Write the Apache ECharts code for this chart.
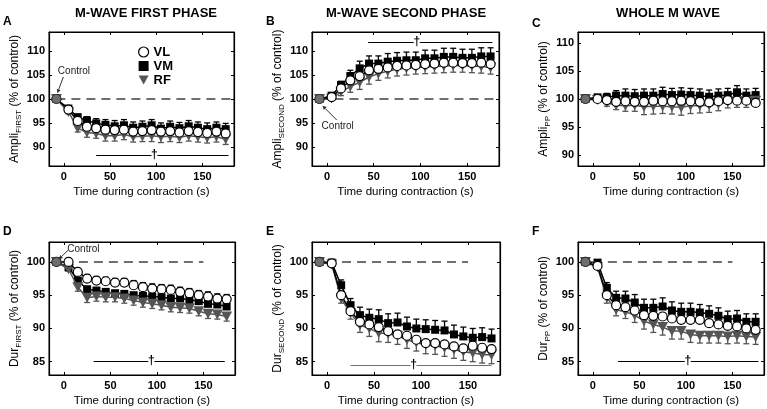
<!DOCTYPE html>
<html><head><meta charset="utf-8">
<script src="https://cdn.jsdelivr.net/npm/echarts@6/dist/echarts.min.js"></script>
<style>html,body{margin:0;padding:0;background:#fff}#c{width:767px;height:409px}</style>
</head><body><div id="c"></div>
<script>
// ---------- data ----------
const timePts = [5,15,25,35,45,55,65,75,85,95,105,115,125,135,145,155,165,175];
const controlT = -8;
const controlV = 100;
const seriesNames = ['VL','VM','RF'];

// A: Ampli FIRST
const A_VL = [97.8,95.4,94.2,93.9,93.6,93.5,93.6,93.2,93.3,93.5,93.2,93.3,93.0,93.3,93.1,92.9,93.2,92.8];
const A_VM = [98.0,96.2,95.5,94.9,94.6,94.3,94.5,94.0,94.2,94.5,93.8,94.2,93.9,94.3,94.0,93.7,94.0,93.7];
const A_RF = [97.3,93.9,93.0,92.8,92.3,92.3,92.6,92.1,92.2,92.3,92.1,92.2,92.0,92.3,92.1,91.9,92.1,91.6];
const A_VM_err = [0.3,0.6,0.8,1.0,1.1,1.2,1.2,1.2,1.2,1.2,1.2,1.2,1.2,1.2,1.2,1.3,1.2,1.2];
const A_RF_err = [0.4,0.8,1.0,1.0,1.1,1.1,1.1,1.1,1.1,1.2,1.2,1.1,1.1,1.1,1.1,1.1,1.1,1.1];

// B: Ampli SECOND
const B_VL = [100.4,102.2,103.9,104.8,106.0,106.3,106.6,106.9,107.0,107.1,107.3,107.4,107.6,107.6,107.5,107.5,107.6,107.3];
const B_VM = [100.7,102.9,104.8,106.4,107.4,107.4,107.8,108.0,108.1,108.1,108.5,108.5,108.8,108.8,108.6,108.6,108.9,108.9];
const B_RF = [100.1,101.5,102.6,103.5,104.6,105.3,105.8,106.2,106.4,106.6,106.7,106.8,106.9,107.0,107.0,106.9,106.8,106.6];
const B_VM_err = [0.3,0.8,1.2,1.5,1.6,1.6,1.7,1.7,1.7,1.7,1.7,1.7,1.8,1.8,1.8,1.8,1.8,1.8];
const B_RF_err = [0.3,0.8,1.2,1.5,1.5,1.4,1.4,1.4,1.4,1.4,1.4,1.4,1.4,1.4,1.4,1.4,1.4,1.4];

// C: Ampli PP
const C_VL = [100.0,99.8,99.5,99.6,99.5,99.5,99.7,99.6,99.6,99.7,99.6,99.5,99.4,99.6,99.8,99.7,99.7,99.3];
const C_VM = [100.3,100.3,100.6,100.6,100.5,100.6,100.6,100.9,100.7,100.8,100.7,100.6,100.4,100.6,100.7,101.2,100.6,100.7];
const C_RF = [99.8,99.3,98.9,98.8,98.9,98.6,98.7,98.7,98.6,98.5,98.8,98.8,98.9,99.1,99.5,99.6,99.6,99.7];
const C_VM_err = [0.4,0.7,0.9,1.2,1.2,1.2,1.2,1.2,1.2,1.2,1.2,1.2,1.2,1.2,1.2,1.2,1.2,1.2];
const C_RF_err = [0.3,0.6,0.8,1.0,1.1,1.4,1.4,1.3,1.3,1.4,1.4,1.3,1.3,1.2,1.1,1.1,1.1,1.0];

// D: Dur FIRST
const D_VL = [100.0,98.5,97.5,97.2,97.1,96.9,96.9,96.5,96.2,96.0,95.9,95.8,95.5,95.3,95.0,94.8,94.5,94.4];
const D_VM = [99.2,97.2,95.9,95.7,95.5,95.3,95.2,95.0,94.9,94.8,94.7,94.5,94.5,94.3,94.1,93.7,93.6,93.3];
const D_RF = [98.9,96.2,94.6,94.8,94.7,94.7,94.5,94.2,93.9,93.7,93.5,93.2,93.1,93.0,92.6,92.2,92.1,91.8];
const D_VL_err = [0.2,0.5,0.6,0.6,0.6,0.6,0.6,0.7,0.7,0.7,0.7,0.7,0.7,0.7,0.7,0.7,0.7,0.7];
const D_RF_err = [0.3,0.6,0.7,0.7,0.7,0.7,0.7,0.7,0.7,0.7,0.7,0.7,0.7,0.7,0.7,0.7,0.7,0.7];

// E: Dur SECOND
const E_VL = [99.8,95.0,92.6,91.0,90.6,90.2,89.6,89.1,88.9,88.3,87.8,87.8,87.6,87.3,87.0,87.4,87.1,86.9];
const E_VM = [99.9,96.5,93.5,92.0,91.6,91.4,90.8,90.9,90.3,90.0,89.9,89.8,89.7,89.1,88.8,88.6,88.7,88.5];
const E_RF = [99.6,94.5,92.3,90.5,90.0,89.3,89.2,88.9,88.3,87.9,87.5,87.4,87.1,86.8,86.5,86.3,86.1,86.0];
const E_VM_err = [0.2,0.8,1.0,1.2,1.3,1.4,1.4,1.4,1.4,1.4,1.4,1.4,1.4,1.4,1.4,1.4,1.4,1.4];
const E_RF_err = [0.2,0.7,0.9,1.1,1.2,1.3,1.3,1.3,1.3,1.3,1.3,1.3,1.3,1.3,1.3,1.3,1.3,1.3];

// F: Dur PP
const F_VL = [99.4,95.0,93.5,93.2,92.7,92.0,91.9,91.8,91.5,91.3,91.3,91.3,90.8,90.6,90.4,90.3,90.0,89.8];
const F_VM = [99.9,96.1,94.6,94.5,93.9,93.1,93.1,93.3,92.7,92.5,92.5,92.4,92.2,91.9,91.4,91.5,91.0,91.0];
const F_RF = [99.2,94.6,92.8,92.5,92.0,91.1,90.6,90.2,89.6,89.6,89.1,88.9,88.9,88.9,88.8,88.9,88.8,88.7];
const F_VM_err = [0.2,0.8,1.0,1.1,1.2,1.3,1.3,1.3,1.3,1.3,1.3,1.2,1.2,1.2,1.2,1.2,1.2,1.2];
const F_RF_err = [0.3,0.8,0.9,1.0,1.1,1.2,1.2,1.2,1.2,1.2,1.2,1.1,1.1,1.1,1.1,1.1,1.1,1.1];

// axis ranges and tick labels
const xRange = [-16, 184];
const xTicks = [0, 50, 100, 150];
const yRangeAB = [86, 114];
const yRangeC = [88, 112];
const yRangeDEF = [83, 103];
const yTicksTop = [90, 95, 100, 105, 110];
const yTicksBottom = [85, 90, 95, 100];

// text
const columnTitles = ['M-WAVE FIRST PHASE', 'M-WAVE SECOND PHASE', 'WHOLE M WAVE'];
const panelLetters = ['A','B','C','D','E','F'];
const yPrefix = ['Ampli','Ampli','Ampli','Dur','Dur','Dur'];
const ySub = ['FIRST','SECOND','PP','FIRST','SECOND','PP'];
const xName = 'Time during contraction (s)';

// reference (dashed) lines at 100: [x1, x2]
const refLines = [[-8,184],[-8,184],[-8,184],[0,150],[0,150],[0,150]];
// significance bars: [x1, x2, y, xDagger]
const sigBars = [[35,178,88.3,98],[44,177,111.9,96],null,[32,173,85.1,94],[25,175,84.5,92],[27,178,85.1,102]];
// "Control" callouts: [textX, textY, arrowStartX, arrowStartY, arrowEndX, arrowEndY]
const callouts = [[11,105.8,-0.5,104.6,-7,101.2],[11.5,94.4,10.5,95.6,-4.8,98.6],null,[21,101.9,4.4,101.75,-5.5,100.4],null,null];

// ---------- layout ----------
const FONT = '"Liberation Sans", Arial, Helvetica, sans-serif';
const grids = [
  {left:49, top:32, width:185, height:134},
  {left:312, top:32, width:187, height:134},
  {left:578, top:32, width:186, height:134},
  {left:49, top:242, width:186, height:133},
  {left:312, top:242, width:188, height:133},
  {left:578, top:242, width:186, height:133}
];
const RFCOL = '#555555';

const panelData = [
  {VL:A_VL, VM:A_VM, RF:A_RF, err:[['VM',A_VM,A_VM_err,1],['RF',A_RF,A_RF_err,-1]], yr:yRangeAB, yt:yTicksTop},
  {VL:B_VL, VM:B_VM, RF:B_RF, err:[['VM',B_VM,B_VM_err,1],['RF',B_RF,B_RF_err,-1]], yr:yRangeAB, yt:yTicksTop},
  {VL:C_VL, VM:C_VM, RF:C_RF, err:[['VM',C_VM,C_VM_err,1],['RF',C_RF,C_RF_err,-1]], yr:yRangeC, yt:yTicksTop},
  {VL:D_VL, VM:D_VM, RF:D_RF, err:[['VL',D_VL,D_VL_err,1],['RF',D_RF,D_RF_err,-1]], yr:yRangeDEF, yt:yTicksBottom},
  {VL:E_VL, VM:E_VM, RF:E_RF, err:[['VM',E_VM,E_VM_err,1],['RF',E_RF,E_RF_err,-1]], yr:yRangeDEF, yt:yTicksBottom},
  {VL:F_VL, VM:F_VM, RF:F_RF, err:[['VM',F_VM,F_VM_err,1],['RF',F_RF,F_RF_err,-1]], yr:yRangeDEF, yt:yTicksBottom}
];

const xAxes = [], yAxes = [], series = [];
const tickCommon = {show:true, inside:true, length:3, lineStyle:{color:'#000', width:1}};

panelData.forEach((pd, p) => {
  xAxes.push({
    gridIndex:p, type:'value', min:xRange[0], max:xRange[1], position:'bottom',
    axisLine:{show:true, onZero:false, lineStyle:{color:'#000', width:1.2}},
    axisTick:Object.assign({customValues:xTicks}, tickCommon),
    axisLabel:{customValues:xTicks, color:'#000', fontFamily:FONT, fontSize:11, fontWeight:'bold', margin:5},
    splitLine:{show:false},
    name:xName, nameLocation:'middle', nameGap:20,
    nameTextStyle:{color:'#000', fontFamily:FONT, fontSize:11.5}
  });
  xAxes.push({
    gridIndex:p, type:'value', min:xRange[0], max:xRange[1], position:'top',
    axisLine:{show:true, onZero:false, lineStyle:{color:'#000', width:1.2}},
    axisTick:Object.assign({customValues:xTicks}, tickCommon),
    axisLabel:{show:false}, splitLine:{show:false}
  });
  yAxes.push({
    gridIndex:p, type:'value', min:pd.yr[0], max:pd.yr[1], position:'left',
    axisLine:{show:true, onZero:false, lineStyle:{color:'#000', width:1.2}},
    axisTick:Object.assign({customValues:pd.yt}, tickCommon),
    axisLabel:{customValues:pd.yt, color:'#000', fontFamily:FONT, fontSize:11, fontWeight:'bold', margin:4},
    splitLine:{show:false},
    name:'{a|' + yPrefix[p] + '}{s|' + ySub[p] + '}{a| (% of control)}',
    nameLocation:'middle', nameGap:20,
    nameTextStyle:{color:'#000', fontFamily:FONT, rich:{
      a:{fontSize:12, fontFamily:FONT, color:'#000', lineHeight:16, verticalAlign:'middle'},
      s:{fontSize:8, fontFamily:FONT, color:'#000', lineHeight:5, verticalAlign:'bottom'}
    }}
  });
  yAxes.push({
    gridIndex:p, type:'value', min:pd.yr[0], max:pd.yr[1], position:'right',
    axisLine:{show:true, onZero:false, lineStyle:{color:'#000', width:1.2}},
    axisTick:Object.assign({customValues:pd.yt}, tickCommon),
    axisLabel:{show:false}, splitLine:{show:false}
  });
  const xi = p*2, yi = p*2;

  // error bars
  pd.err.forEach(([nm, vals, errs, dir]) => {
    const col = nm === 'RF' ? RFCOL : '#000';
    series.push({
      type:'custom', name:nm, xAxisIndex:xi, yAxisIndex:yi, z:1, silent:true,
      data: timePts.map((t,i) => [t, vals[i], errs[i]]),
      encode:{x:0, y:1},
      renderItem:(params, api) => {
        const x = api.value(0), y = api.value(1), e = api.value(2);
        const p0 = api.coord([x, y]);
        const p1 = api.coord([x, y + dir*e]);
        const w = 3;
        return {type:'group', children:[
          {type:'line', shape:{x1:p0[0], y1:p0[1], x2:p1[0], y2:p1[1]}, style:{stroke:col, lineWidth:1.3}},
          {type:'line', shape:{x1:p1[0]-w, y1:p1[1], x2:p1[0]+w, y2:p1[1]}, style:{stroke:col, lineWidth:1.3}}
        ]};
      }
    });
  });

  const mk = (vals) => [[controlT, controlV]].concat(timePts.map((t,i) => [t, vals[i]]));
  // VM
  series.push({
    type:'line', name:'VM', xAxisIndex:xi, yAxisIndex:yi, z:3,
    data: mk(pd.VM), symbol:'rect', symbolSize:8, showAllSymbol:true,
    lineStyle:{color:'#000', width:1.5}, itemStyle:{color:'#000'},
    emphasis:{disabled:true}, animation:false,
    markLine:{silent:true, symbol:'none', animation:false, label:{show:false},
      lineStyle:{color:'#404040', type:[9,6], width:1.5},
      data:[[{coord:[refLines[p][0], 100]}, {coord:[refLines[p][1], 100]}]]}
  });
  // RF
  series.push({
    type:'line', name:'RF', xAxisIndex:xi, yAxisIndex:yi, z:4,
    data: mk(pd.RF), symbol:'triangle', symbolRotate:180, symbolSize:[11,10], showAllSymbol:true,
    lineStyle:{color:RFCOL, width:1.5}, itemStyle:{color:RFCOL},
    emphasis:{disabled:true}, animation:false
  });
  // VL
  series.push({
    type:'line', name:'VL', xAxisIndex:xi, yAxisIndex:yi, z:5,
    data: mk(pd.VL), symbol:'circle', symbolSize:9, showAllSymbol:true,
    lineStyle:{color:'#000', width:1.5}, itemStyle:{color:'#fff', borderColor:'#000', borderWidth:1.2},
    emphasis:{disabled:true}, animation:false
  });
  // control marker
  series.push({
    type:'scatter', name:'control', xAxisIndex:xi, yAxisIndex:yi, z:6, silent:true,
    data:[[controlT, controlV]], symbol:'circle', symbolSize:10,
    itemStyle:{color:'#4a4a4a'}, animation:false
  });
  // significance bar
  if (sigBars[p]) {
    const sb = sigBars[p];
    const col = p === 4 ? '#707070' : '#000';
    series.push({
      type:'custom', name:'sig', xAxisIndex:xi, yAxisIndex:yi, z:2, silent:true,
      data:[sb], encode:{x:0, y:2},
      renderItem:(params, api) => {
        const a = api.coord([api.value(0), api.value(2)]);
        const b = api.coord([api.value(1), api.value(2)]);
        const d = api.coord([api.value(3), api.value(2)]);
        const yy = Math.round(a[1]) + 0.5;
        return {type:'group', children:[
          {type:'line', shape:{x1:a[0], y1:yy, x2:d[0]-3, y2:yy}, style:{stroke:col, lineWidth:1.2}},
          {type:'line', shape:{x1:d[0]+3, y1:yy, x2:b[0], y2:yy}, style:{stroke:col, lineWidth:1.2}},
          {type:'text', x:d[0], y:yy-1, style:{text:'\u2020', fill:'#000', font:'bold 12px ' + FONT, textAlign:'center', textVerticalAlign:'middle'}}
        ]};
      }
    });
  }
  // Control callout
  if (callouts[p]) {
    const c = callouts[p];
    series.push({
      type:'custom', name:'callout', xAxisIndex:xi, yAxisIndex:yi, z:7, silent:true,
      data:[c], encode:{x:0, y:1},
      renderItem:(params, api) => {
        const t = api.coord([api.value(0), api.value(1)]);
        const s = api.coord([api.value(2), api.value(3)]);
        const e = api.coord([api.value(4), api.value(5)]);
        const ang = Math.atan2(e[1]-s[1], e[0]-s[0]);
        const L = 4, W = 2;
        const bx = e[0] - L*Math.cos(ang), by = e[1] - L*Math.sin(ang);
        const px = -Math.sin(ang)*W, py = Math.cos(ang)*W;
        return {type:'group', children:[
          {type:'line', shape:{x1:s[0], y1:s[1], x2:bx, y2:by}, style:{stroke:'#333', lineWidth:1}},
          {type:'polygon', shape:{points:[[e[0],e[1]],[bx+px,by+py],[bx-px,by-py]]}, style:{fill:'#333'}},
          {type:'text', x:t[0], y:t[1], style:{text:'Control', fill:'#222', font:'10px ' + FONT, textAlign:'center', textVerticalAlign:'middle'}}
        ]};
      }
    });
  }
});

// titles and panel letters
const titleX = [146, 406, 668];
const letterPos = [[3,22],[266,22],[532,24],[3,232],[266,232],[532,232]];
const graphics = [];
columnTitles.forEach((t,i) => graphics.push({type:'text', x:titleX[i], y:13, silent:true,
  style:{text:t, fill:'#000', font:'bold 13px ' + FONT, textAlign:'center', textVerticalAlign:'middle'}}));
panelLetters.forEach((t,i) => graphics.push({type:'text', x:letterPos[i][0], y:letterPos[i][1], silent:true,
  style:{text:t, fill:'#000', font:'bold 12px ' + FONT, textAlign:'left', textVerticalAlign:'middle'}}));

const chart = echarts.init(document.getElementById('c'), null, {renderer:'canvas'});
chart.setOption({
  animation:false,
  backgroundColor:'#fff',
  grid: grids.map(g => Object.assign({show:true, borderColor:'#000', borderWidth:1, backgroundColor:'transparent', containLabel:false}, g)),
  xAxis: xAxes,
  yAxis: yAxes,
  legend:{
    orient:'vertical', left:133, top:40, itemWidth:10, itemHeight:10, itemGap:0,
    textStyle:{fontFamily:FONT, fontSize:13, fontWeight:'bold', color:'#000', lineHeight:14},
    selectedMode:false,
    data:[
      {name:'VL', icon:'circle', itemStyle:{color:'#fff', borderColor:'#000', borderWidth:1.2}},
      {name:'VM', icon:'rect', itemStyle:{color:'#000', borderWidth:0}},
      {name:'RF', icon:'path://M0,0L10,0L5,9Z', itemStyle:{color:RFCOL, borderWidth:0}}
    ]
  },
  graphic: graphics,
  series: series
});
</script>
</body></html>
